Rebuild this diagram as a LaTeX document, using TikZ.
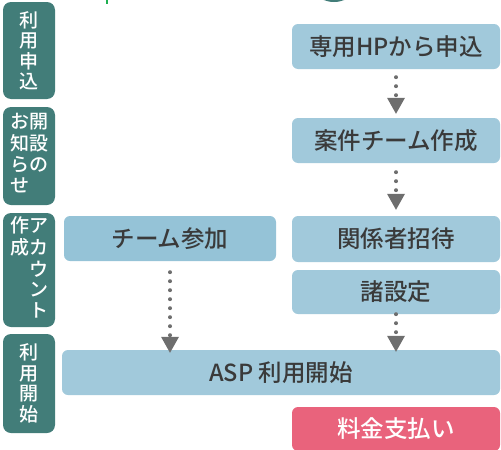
\documentclass[tikz,border=0pt]{standalone}
\usepackage{fontspec}
\setmainfont{Noto Sans CJK JP Medium}
\usetikzlibrary{arrows.meta}
\definecolor{boxblue}{RGB}{161,201,219}
\definecolor{joinblue}{RGB}{149,195,215}
\definecolor{labelteal}{RGB}{66,125,121}
\definecolor{paypink}{RGB}{233,99,124}
\definecolor{arrowgray}{RGB}{110,110,110}
\definecolor{textgray}{RGB}{58,58,58}
\definecolor{tickgreen}{RGB}{30,175,80}
\tikzset{
    stepbox/.style = {fill = boxblue, rounded corners = 6pt, minimum width = 208pt, minimum height = 45pt,
        inner sep = 0pt, text = textgray, font = \fontsize{23.5}{26}\selectfont},
    phase/.style = {fill = labelteal, rounded corners = 8pt, minimum width = 52pt, inner sep = 0pt,
        text = white, align = center, font = \fontsize{19}{20.5}\selectfont},
    flow/.style = {draw = arrowgray, line width = 4pt, line cap = round, dash pattern = on 0pt off 9pt,
        -{Triangle[width = 18pt, length = 16pt, line width = 0pt]}}
}
\begin{document}
\begin{tikzpicture}[x = 1pt, y = -1pt]
    \useasboundingbox (0, 0) rectangle (501, 450);
    \clip (0, 0) rectangle (501, 450);
    \fill[tickgreen] (106, -2) rectangle (108, 4);
    \fill[labelteal] (334, -26) circle (28);

    \node[phase, minimum height = 97pt] (l1) at (29, 50.5) {利\\用\\申\\込};
    \node[phase, minimum height = 98pt] (l2) at (29, 156) {\begin{tabular}{@{}c@{}c@{}}お & 開\\知 & 設\\ら & の\\せ & \end{tabular}};
    \node[phase, minimum height = 114pt] (l3) at (29, 270) {\begin{tabular}{@{}c@{}c@{}}作 & ア\\成 & カ\\ & ウ\\ & ン\\ & ト\end{tabular}};
    \node[phase, minimum height = 99pt] (l4) at (29, 383.5) {利\\用\\開\\始};

    \node[stepbox] (hp) at (396, 46.5) {専用HPから申込};
    \node[stepbox] (team) at (396, 140.5) {案件チーム作成};
    \node[stepbox, minimum height = 46pt] (invite) at (396, 239) {関係者招待};
    \node[stepbox, minimum height = 44pt] (setup) at (396, 292) {諸設定};
    \node[stepbox, fill = joinblue, minimum width = 212pt] (join) at (170, 238.5) {チーム参加};
    \node[stepbox, minimum width = 438pt] (asp) at (281, 372.5) {ASP 利用開始};
    \node[stepbox, fill = paypink, text = white, minimum height = 44pt] (pay) at (396, 429) {料金支払い};

    \draw[flow, shorten <= 8pt, shorten >= 4pt] (hp) -- (team);
    \draw[flow, shorten <= 9pt, shorten >= 6pt] (team) -- (invite);
    \draw[flow, shorten >= -2pt] (setup) -- (setup |- asp.north);
    \draw[flow, shorten <= 11pt, shorten >= -3pt] (join) -- (join |- asp.north);
\end{tikzpicture}
\end{document}
